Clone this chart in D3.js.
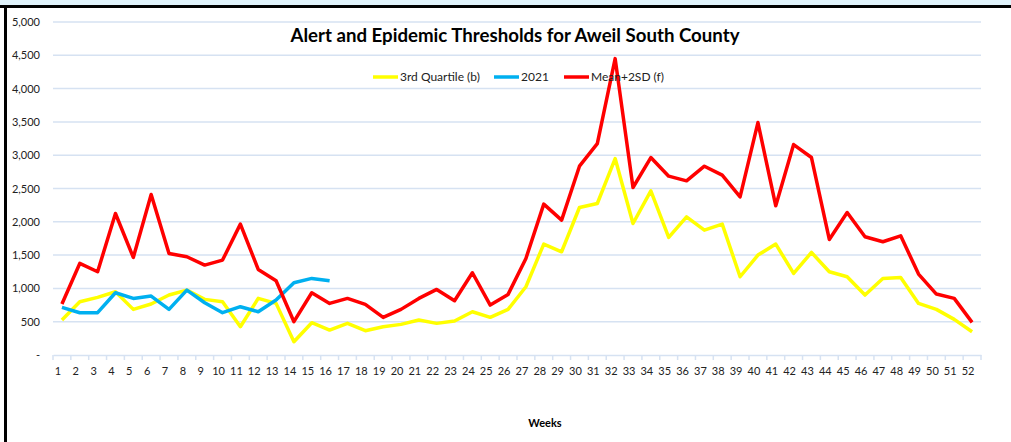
<!DOCTYPE html>
<html>
<head>
<meta charset="utf-8">
<script src="https://cdn.jsdelivr.net/npm/d3@7"></script>
<style>
  body { margin: 0; background: #fff; }
  svg { display: block; font-family: Lato, "Open Sans", sans-serif; }
</style>
</head>
<body>
<div id="root"></div>
<script>
// weeks 1..52
var weeks = d3.range(1, 53);

var thirdQuartile = [525, 800, 865, 950, 685, 765, 900, 975, 835, 800,
  425, 850, 775, 200, 485, 375, 475, 365, 425, 460,
  525, 475, 510, 650, 565, 685, 1025, 1665, 1550, 2215,
  2275, 2950, 1975, 2465, 1765, 2075, 1875, 1965, 1175, 1500,
  1665, 1225, 1540, 1250, 1175, 900, 1150, 1165, 775, 685,
  535, 350];

var year2021 = [715, 635, 635, 935, 850, 885, 685, 975, 785, 635,
  725, 650, 825, 1085, 1150, 1115];

var meanPlus2SD = [765, 1375, 1250, 2125, 1465, 2410, 1525, 1475, 1350, 1425,
  1965, 1285, 1115, 500, 935, 775, 850, 760, 565, 685,
  850, 985, 815, 1235, 750, 910, 1450, 2265, 2025, 2835,
  3175, 4450, 2515, 2965, 2685, 2615, 2835, 2700, 2375, 3490,
  2240, 3160, 2965, 1735, 2140, 1775, 1700, 1790, 1215, 915,
  850, 490];

var yTicks = [0, 500, 1000, 1500, 2000, 2500, 3000, 3500, 4000, 4500, 5000];

var seriesList = [
  { name: "3rd Quartile (b)", values: thirdQuartile, color: "#ffff00" },
  { name: "2021", values: year2021, color: "#00b0f0" },
  { name: "Mean+2SD (f)", values: meanPlus2SD, color: "#ff0000" }
];

var W = 1011, H = 442;
var plotL = 53, plotR = 981, plotT = 22, plotB = 355;

var svg = d3.select("#root").append("svg")
  .attr("width", W)
  .attr("height", H);

// frame
svg.append("rect").attr("x", 0).attr("y", 0).attr("width", W).attr("height", 5).attr("fill", "#dff2fa");
svg.append("rect").attr("x", 0).attr("y", 5).attr("width", W).attr("height", 3).attr("fill", "#000");
svg.append("rect").attr("x", 4).attr("y", 5).attr("width", 3).attr("height", H).attr("fill", "#000");

var x = d3.scaleBand().domain(weeks).range([plotL, plotR]).padding(0);
var y = d3.scaleLinear().domain([0, 5000]).range([plotB, plotT]);

// gridlines
svg.append("g").selectAll("line")
  .data(yTicks.filter(function (d) { return d > 0; }))
  .enter().append("line")
  .attr("x1", plotL).attr("x2", plotR)
  .attr("y1", function (d) { return y(d); })
  .attr("y2", function (d) { return y(d); })
  .attr("stroke", "#d6e2f2")
  .attr("stroke-width", 1.5);

// y axis labels
var yAxis = d3.axisLeft(y).tickValues(yTicks).tickSize(0).tickPadding(0)
  .tickFormat(function (d) { return d === 0 ? "-" : d3.format(",")(d); });
var gy = svg.append("g").attr("transform", "translate(40,0)").call(yAxis);
gy.select(".domain").remove();
gy.selectAll("text").attr("font-size", 11).attr("fill", "#222")
  .attr("font-family", "Lato, sans-serif");

// x axis
var xAxis = d3.axisBottom(x).tickSize(0).tickPadding(12);
var gx = svg.append("g").attr("transform", "translate(0," + plotB + ")").call(xAxis);
gx.select(".domain").attr("stroke", "#d6e2f2").attr("stroke-width", 1.5);
gx.selectAll("text").attr("font-size", 11).attr("fill", "#222")
  .attr("dx", -4).attr("font-family", "Lato, sans-serif");
// tick marks between categories
gx.append("g").selectAll("line")
  .data(weeks.concat([53]))
  .enter().append("line")
  .attr("x1", function (d) { return d === 53 ? plotR : x(d); })
  .attr("x2", function (d) { return d === 53 ? plotR : x(d); })
  .attr("y1", 0).attr("y2", 5)
  .attr("stroke", "#d6e2f2").attr("stroke-width", 1.5);

// lines
var line = d3.line()
  .x(function (d, i) { return x(weeks[i]) + x.bandwidth() / 2; })
  .y(function (d) { return y(d); });

svg.append("g").selectAll("path")
  .data(seriesList)
  .enter().append("path")
  .attr("d", function (s) { return line(s.values); })
  .attr("fill", "none")
  .attr("stroke", function (s) { return s.color; })
  .attr("stroke-width", 3.5)
  .attr("stroke-linejoin", "round");

// title
svg.append("text")
  .attr("x", 515).attr("y", 42)
  .attr("text-anchor", "middle")
  .attr("font-size", 19).attr("font-weight", "bold")
  .attr("textLength", 449).attr("lengthAdjust", "spacingAndGlyphs")
  .text("Alert and Epidemic Thresholds for Aweil South County");

// legend
var legendPos = [373, 494, 564];
var lg = svg.append("g").selectAll("g")
  .data(seriesList)
  .enter().append("g")
  .attr("transform", function (d, i) { return "translate(" + legendPos[i] + ",77)"; });
lg.append("line").attr("x1", 0).attr("x2", 25).attr("y1", 0).attr("y2", 0)
  .attr("stroke", function (d) { return d.color; }).attr("stroke-width", 3.5);
lg.append("text").attr("x", 27).attr("y", 4)
  .attr("font-size", 12).attr("fill", "#222")
  .text(function (d) { return d.name; });

// x axis title
svg.append("text")
  .attr("x", 545).attr("y", 427)
  .attr("text-anchor", "middle")
  .attr("font-size", 11).attr("font-weight", "bold")
  .text("Weeks");
</script>
</body>
</html>
